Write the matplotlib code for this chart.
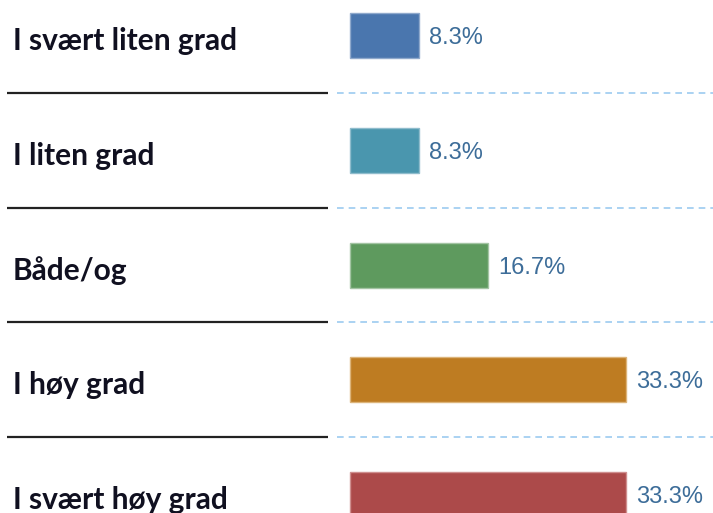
import matplotlib.pyplot as plt

# data
categories = ['I svært liten grad', 'I liten grad', 'Både/og', 'I høy grad', 'I svært høy grad']
values = [8.3, 8.3, 16.7, 33.3, 33.3]
value_labels = ['8.3%', '8.3%', '16.7%', '33.3%', '33.3%']
colors = ['#4a76ae', '#4a96ae', '#5e9a5e', '#be7c22', '#ac4a4a']
edges = ['#8fa9cc', '#8fbccc', '#a3c4a3', '#dcb47a', '#cf8f8f']

W, H = 713, 513
fig = plt.figure(figsize=(W / 100, H / 100), dpi=100)
ax = fig.add_axes([0, 0, 1, 1])

# layout in pixels -> data units
x0_px = 350              # where the bars start
ppu = 276 / 33.3         # pixels per percent
row_px = 114.75          # distance between rows
first_px = 35.5          # centre of first bar from top

ax.set_xlim(-x0_px / ppu, (W - x0_px) / ppu)
ax.set_ylim((H - first_px) / row_px, -first_px / row_px)
ax.axis('off')

def px(x):
    return (x - x0_px) / ppu

pos = list(range(len(categories)))
ax.barh(pos, values, height=45 / row_px, color=colors, edgecolor=edges, linewidth=1)

for i, (v, lab, cat) in enumerate(zip(values, value_labels, categories)):
    ax.text(v + 10 / ppu, i + 8.5 / row_px, lab, va='baseline', ha='left',
            fontsize=17, color='#3d6d99', family='Liberation Sans')
    ax.text(px(13), i + 14.5 / row_px, cat, va='baseline', ha='left',
            fontsize=21.5, fontweight='bold', color='#101020', family='Lato')

# separators
for i in range(len(categories) - 1):
    y = i + 0.5
    ax.plot([px(7), px(328)], [y, y], color='#222222', lw=1.6, solid_capstyle='butt')
    ax.plot([px(337), px(W)], [y, y], color='#9ccbf0', lw=1.2, dashes=(4, 3))

fig.savefig('out.png', dpi=100)
